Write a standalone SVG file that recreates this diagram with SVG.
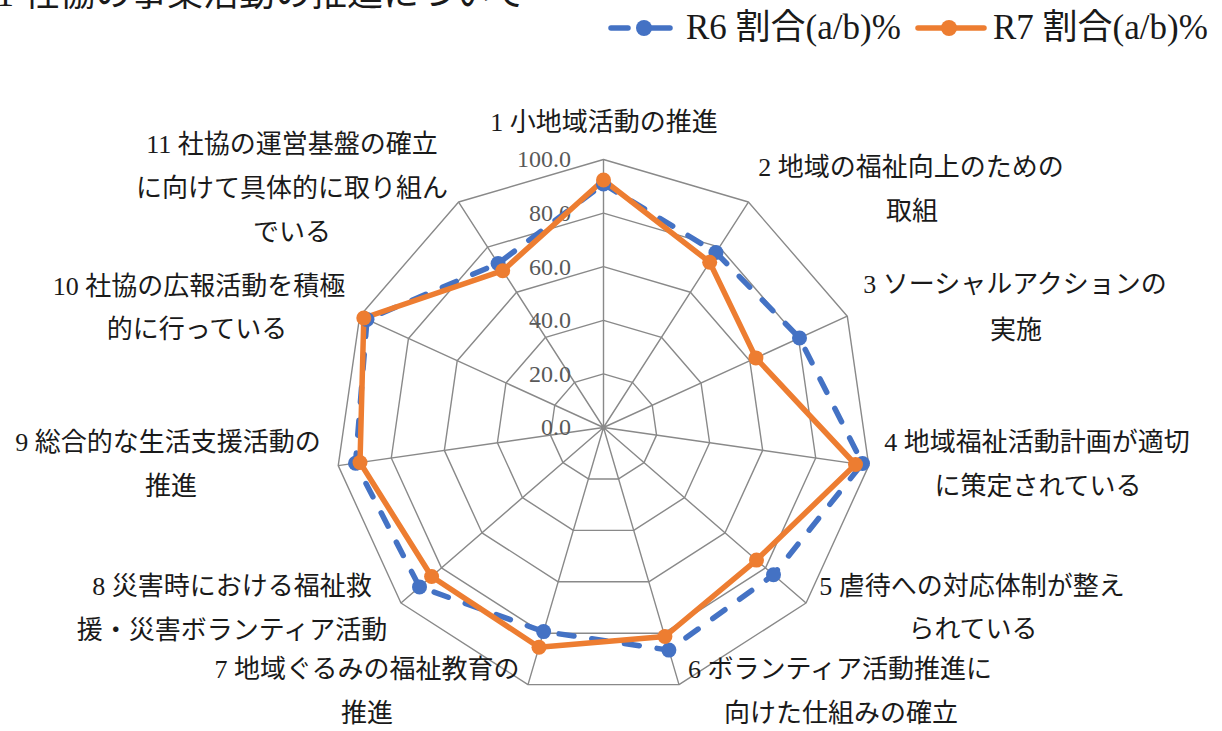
<svg xmlns="http://www.w3.org/2000/svg" width="1222" height="731" viewBox="0 0 1222 731">
<style>
.t{font-family:"Liberation Serif","Noto Sans CJK JP",serif;fill:#1a1a1a}
.lab{font-size:26px;text-anchor:middle}
.val{font-family:"Liberation Serif","Noto Sans CJK JP",serif;font-size:24px;fill:#595959;text-anchor:end}
.grid{fill:none;stroke:#898989;stroke-width:1.4;stroke-linejoin:round}
.r6{fill:none;stroke:#4472C4;stroke-width:5.5;stroke-dasharray:15 18;stroke-linecap:round;stroke-linejoin:round}
.r7{fill:none;stroke:#ED7D31;stroke-width:5.5;stroke-linecap:round;stroke-linejoin:round}
.m6{fill:#4472C4}
.m7{fill:#ED7D31}
</style>
<rect width="1222" height="731" fill="#fff"/>
<text id="title" class="t" x="-4" y="6" style="font-size:36px">1 社協の事業活動の推進について</text>
<g id="legend">
<line x1="611" y1="28" x2="628" y2="28" stroke="#4472C4" stroke-width="5.5" stroke-linecap="round"/>
<line x1="650" y1="28" x2="670" y2="28" stroke="#4472C4" stroke-width="5.5" stroke-linecap="round"/>
<circle class="m6" cx="644" cy="28" r="8"/>
<text class="t" x="686" y="39" style="font-size:35px">R6 割合(a/b)%</text>
<line x1="918" y1="28" x2="984" y2="28" stroke="#ED7D31" stroke-width="5.5" stroke-linecap="round"/>
<circle class="m7" cx="949" cy="28" r="8"/>
<text class="t" x="993" y="39" style="font-size:35px">R7 割合(a/b)%</text>
</g>
<g id="grid">
<polygon class="grid" points="603.5,159.5 748.39,202.04 847.28,316.17 868.77,465.64 806.04,603 679,684.64 528,684.64 400.96,603 338.23,465.64 359.72,316.17 458.61,202.04"/>
<polygon class="grid" points="603.5,213.1 719.41,247.14 798.52,338.43 815.72,458.01 765.53,567.9 663.9,633.21 543.1,633.21 441.47,567.9 391.28,458.01 408.48,338.43 487.59,247.14"/>
<polygon class="grid" points="603.5,266.7 690.43,292.23 749.77,360.7 762.66,450.38 725.02,532.8 648.8,581.79 558.2,581.79 481.98,532.8 444.34,450.38 457.23,360.7 516.57,292.23"/>
<polygon class="grid" points="603.5,320.3 661.46,337.32 701.01,382.97 709.61,442.76 684.52,497.7 633.7,530.36 573.3,530.36 522.48,497.7 497.39,442.76 505.99,382.97 545.54,337.32"/>
<polygon class="grid" points="603.5,373.9 632.48,382.41 652.26,405.23 656.55,435.13 644.01,462.6 618.6,478.93 588.4,478.93 562.99,462.6 550.45,435.13 554.74,405.23 574.52,382.41"/>
<path class="grid" d="M603.5,427.5L603.5,159.5M603.5,427.5L748.39,202.04M603.5,427.5L847.28,316.17M603.5,427.5L868.77,465.64M603.5,427.5L806.04,603M603.5,427.5L679,684.64M603.5,427.5L528,684.64M603.5,427.5L400.96,603M603.5,427.5L338.23,465.64M603.5,427.5L359.72,316.17M603.5,427.5L458.61,202.04"/>
</g>
<g id="axis-values">
<text class="val" x="571" y="167">100.0</text>
<text class="val" x="571" y="221">80.0</text>
<text class="val" x="571" y="275">60.0</text>
<text class="val" x="571" y="328">40.0</text>
<text class="val" x="571" y="382">20.0</text>
<text class="val" x="571" y="435">0.0</text>
</g>
<g id="connectors">
<polygon id="series-r6" class="r6" points="603.5,184 715.95,252.5 799.5,338 862.5,463.5 773.5,574.8 668.9,650.1 543.6,631.6 419.5,586.9 355.5,463.2 367,319.5 498.1,263.5"/>
<polygon id="series-r7" class="r7" points="603.5,180 709.7,262.2 755.9,357.9 855.5,464.5 756.5,560.1 664.9,636.5 539,647.2 431.6,576.5 360,462.5 363.8,318 502.7,270.7"/>
</g>
<g id="markers-r6">
<circle class="m6" cx="603.5" cy="184" r="7.5"/>
<circle class="m6" cx="715.95" cy="252.5" r="7.5"/>
<circle class="m6" cx="799.5" cy="338" r="7.5"/>
<circle class="m6" cx="862.5" cy="463.5" r="7.5"/>
<circle class="m6" cx="773.5" cy="574.8" r="7.5"/>
<circle class="m6" cx="668.9" cy="650.1" r="7.5"/>
<circle class="m6" cx="543.6" cy="631.6" r="7.5"/>
<circle class="m6" cx="419.5" cy="586.9" r="7.5"/>
<circle class="m6" cx="355.5" cy="463.2" r="7.5"/>
<circle class="m6" cx="367" cy="319.5" r="7.5"/>
<circle class="m6" cx="498.1" cy="263.5" r="7.5"/>
</g>
<g id="markers-r7">
<circle class="m7" cx="603.5" cy="180" r="7.5"/>
<circle class="m7" cx="709.7" cy="262.2" r="7.5"/>
<circle class="m7" cx="755.9" cy="357.9" r="7.5"/>
<circle class="m7" cx="855.5" cy="464.5" r="7.5"/>
<circle class="m7" cx="756.5" cy="560.1" r="7.5"/>
<circle class="m7" cx="664.9" cy="636.5" r="7.5"/>
<circle class="m7" cx="539" cy="647.2" r="7.5"/>
<circle class="m7" cx="431.6" cy="576.5" r="7.5"/>
<circle class="m7" cx="360" cy="462.5" r="7.5"/>
<circle class="m7" cx="363.8" cy="318" r="7.5"/>
<circle class="m7" cx="502.7" cy="270.7" r="7.5"/>
</g>
<g id="label-1"><text class="t lab" x="604" y="131">1 小地域活動の推進</text></g>
<g id="label-2"><text class="t lab" x="911" y="176">2 地域の福祉向上のための</text><text class="t lab" x="912" y="220">取組</text></g>
<g id="label-3"><text class="t lab" x="1015" y="293">3 ソーシャルアクションの</text><text class="t lab" x="1016" y="339">実施</text></g>
<g id="label-4"><text class="t lab" x="1037" y="451">4 地域福祉活動計画が適切</text><text class="t lab" x="1038" y="495">に策定されている</text></g>
<g id="label-5"><text class="t lab" x="972" y="595">5 虐待への対応体制が整え</text><text class="t lab" x="973" y="638">られている</text></g>
<g id="label-6"><text class="t lab" x="840" y="678">6 ボランティア活動推進に</text><text class="t lab" x="841" y="722">向けた仕組みの確立</text></g>
<g id="label-7"><text class="t lab" x="367" y="678">7 地域ぐるみの福祉教育の</text><text class="t lab" x="367" y="722">推進</text></g>
<g id="label-8"><text class="t lab" x="232" y="595">8 災害時における福祉救</text><text class="t lab" x="232" y="639">援・災害ボランティア活動</text></g>
<g id="label-9"><text class="t lab" x="168" y="451">9 総合的な生活支援活動の</text><text class="t lab" x="171" y="495">推進</text></g>
<g id="label-10"><text class="t lab" x="199" y="295">10 社協の広報活動を積極</text><text class="t lab" x="197" y="338">的に行っている</text></g>
<g id="label-11"><text class="t lab" x="292" y="153">11 社協の運営基盤の確立</text><text class="t lab" x="292" y="197">に向けて具体的に取り組ん</text><text class="t lab" x="292" y="241">でいる</text></g>
</svg>
